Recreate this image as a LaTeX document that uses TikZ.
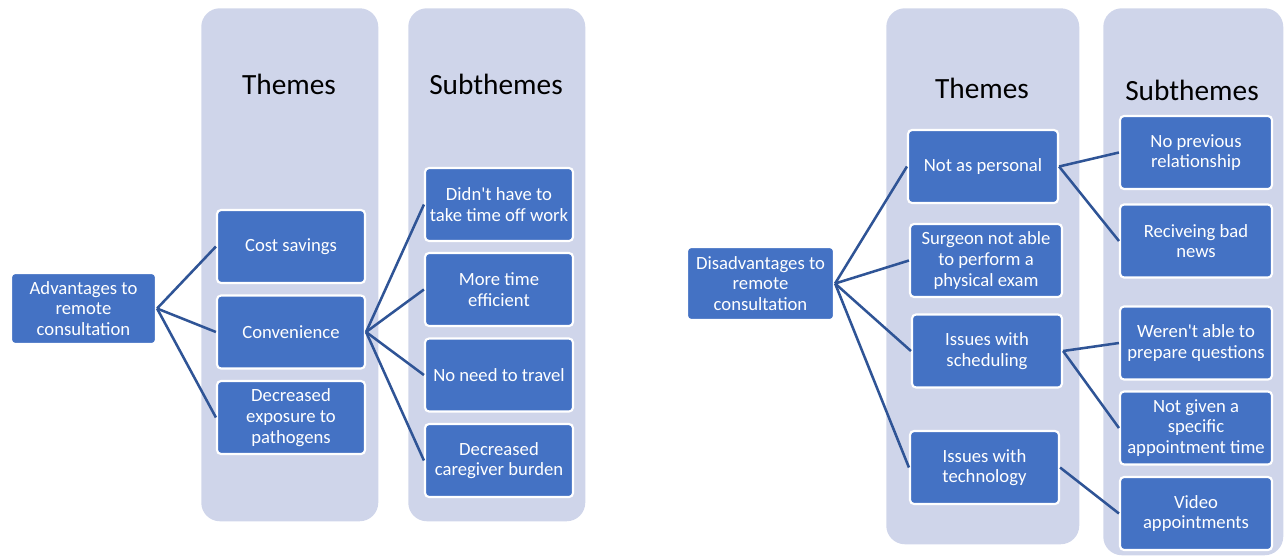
\documentclass[tikz,border=0pt]{standalone}
\usepackage{fontspec}
\setmainfont{Carlito}[Ligatures=TeXOff]
\definecolor{boxc}{HTML}{4472C4}
\definecolor{panelc}{HTML}{CFD5EA}
\definecolor{linec}{HTML}{2F5496}
\begin{document}
\begin{tikzpicture}[x=0.75pt,y=-0.75pt,
  panel/.style={fill=panelc, rounded corners=14pt, inner sep=0pt, anchor=north west},
  box/.style={draw=white, line width=1.6pt, fill=boxc, rounded corners=3pt, text=white, align=center,
    font=\fontsize{14}{15.5}\selectfont, inner sep=0pt, minimum width=111pt, minimum height=54.75pt},
  title/.style={font=\fontsize{22}{26}\selectfont, text=black},
  link/.style={draw=linec, line width=1.9pt}]
\useasboundingbox (0,0) rectangle (1287,557);
% panels
\node[panel, minimum width=132.75pt, minimum height=384.75pt] (pA) at (201,8) {};
\node[panel, minimum width=132.75pt, minimum height=384.75pt] (pB) at (408,8) {};
\node[panel, minimum width=144.75pt, minimum height=402pt] (pC) at (886,8) {};
\node[panel, minimum width=135pt, minimum height=410.25pt] (pD) at (1103,8) {};
% titles
\node[title] (tA) at (289,84) {Themes};
\node[title] (tB) at (496,84) {Subthemes};
\node[title] (tC) at (982,88) {Themes};
\node[title] (tD) at (1192,90) {Subthemes};
% left diagram
\node[box, minimum width=108.75pt, minimum height=53.25pt] (rootA) at (83.5,308.5) {Advantages to\\remote\\consultation};
\node[box] (cost) at (291,246.5) {Cost savings};
\node[box] (conv) at (291,332) {Convenience};
\node[box] (expo) at (291,417.5) {Decreased\\exposure to\\pathogens};
\node[box] (s1) at (499,204.5) {Didn't have to\\take time off work};
\node[box] (s2) at (499,289.5) {More time\\efficient};
\node[box] (s3) at (499,375) {No need to travel};
\node[box] (s4) at (499,460.5) {Decreased\\caregiver burden};
\draw[link] (rootA.east) -- (cost.west);
\draw[link] (rootA.east) -- (conv.west);
\draw[link] (rootA.east) -- (expo.west);
\draw[link] (conv.east) -- (s1.west);
\draw[link] (conv.east) -- (s2.west);
\draw[link] (conv.east) -- (s3.west);
\draw[link] (conv.east) -- (s4.west);
% right diagram
\node[box, minimum width=110.25pt] (rootB) at (760.5,283.5) {Disadvantages to\\remote\\consultation};
\node[box, minimum width=112.5pt] (np) at (983,166.5) {Not as personal};
\node[box, minimum width=114pt] (su) at (986,260.5) {Surgeon not able\\to perform a\\physical exam};
\node[box, minimum width=112.5pt] (sc) at (987,351) {Issues with\\scheduling};
\node[box, minimum width=111.75pt] (te) at (984.5,467.5) {Issues with\\technology};
\node[box, minimum width=114pt] (u1) at (1196,152.5) {No previous\\relationship};
\node[box, minimum width=114pt] (u2) at (1196,241) {Reciveing bad\\news};
\node[box, minimum width=114pt] (u3) at (1196,343) {Weren't able to\\prepare questions};
\node[box, minimum width=114pt] (u4) at (1196,428) {Not given a\\specific\\appointment time};
\node[box, minimum width=114pt] (u5) at (1196,513.5) {Video\\appointments};
\draw[link] (rootB.east) -- (np.west);
\draw[link] (rootB.east) -- (su.west);
\draw[link] (rootB.east) -- (sc.west);
\draw[link] (rootB.east) -- (te.west);
\draw[link] (np.east) -- (u1.west);
\draw[link] (np.east) -- (u2.west);
\draw[link] (sc.east) -- (u3.west);
\draw[link] (sc.east) -- (u4.west);
\draw[link] (te.east) -- (u5.west);
\end{tikzpicture}
\end{document}
